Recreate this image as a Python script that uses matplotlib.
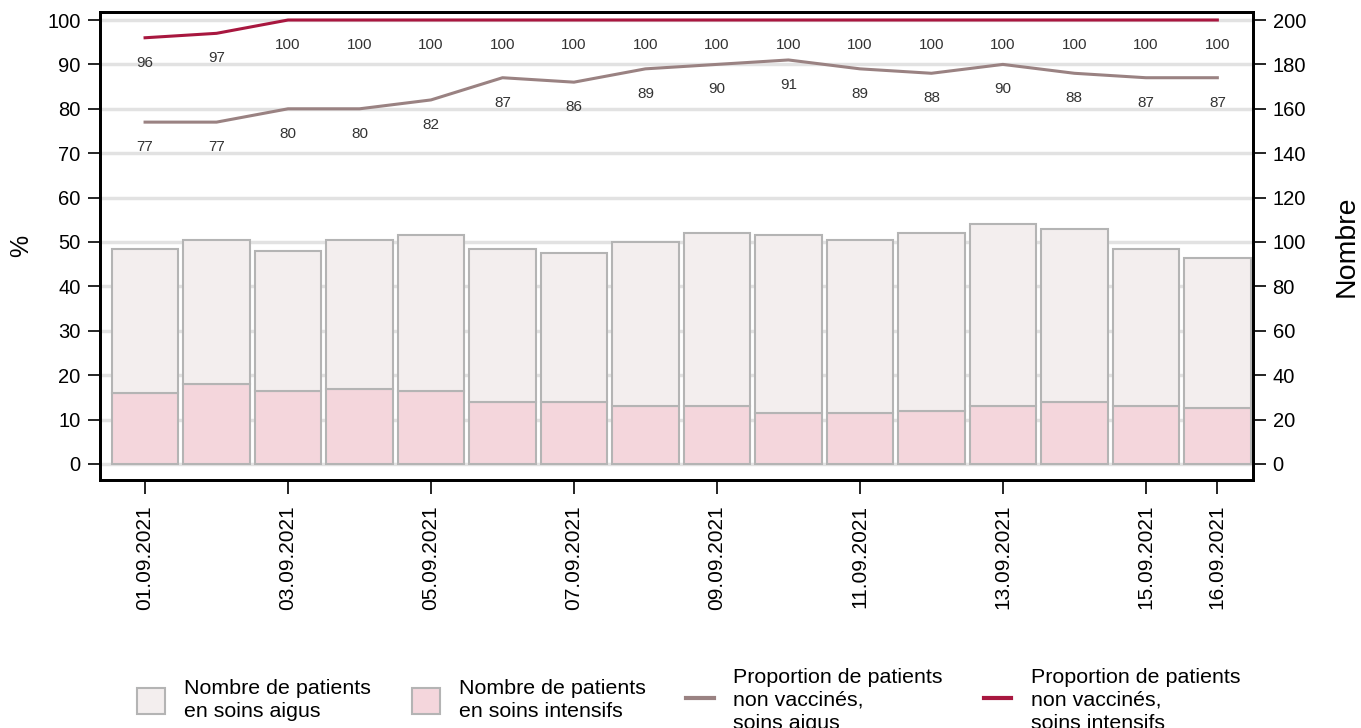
import matplotlib.pyplot as plt
from matplotlib.patches import Patch
from matplotlib.lines import Line2D

plt.rcParams['font.family'] = ['Liberation Sans', 'DejaVu Sans']

# Data
dates = ['01.09.2021', '02.09.2021', '03.09.2021', '04.09.2021', '05.09.2021',
         '06.09.2021', '07.09.2021', '08.09.2021', '09.09.2021', '10.09.2021',
         '11.09.2021', '12.09.2021', '13.09.2021', '14.09.2021', '15.09.2021',
         '16.09.2021']
soins_intensifs = [32, 36, 33, 34, 33, 28, 28, 26, 26, 23, 23, 24, 26, 28, 26, 25]
soins_aigus = [65, 65, 63, 67, 70, 69, 67, 74, 78, 80, 78, 80, 82, 78, 71, 68]
prop_aigus = [77, 77, 80, 80, 82, 87, 86, 89, 90, 91, 89, 88, 90, 88, 87, 87]
prop_intensifs = [96, 97, 100, 100, 100, 100, 100, 100, 100, 100, 100, 100, 100, 100, 100, 100]
shown_ticks = [0, 2, 4, 6, 8, 10, 12, 14, 15]

c_aigus_bar = '#f3eeee'
c_int_bar = '#f4d6dc'
c_edge = '#b4b4b4'
c_line_aigus = '#9a8282'
c_line_int = '#a8173f'

fig = plt.figure(figsize=(13.61, 7.28), dpi=100)
ax = fig.add_axes([0.0735, 0.3407, 0.8472, 0.6428])
ax2 = ax.twinx()

x = list(range(len(dates)))

# bars on the right axis (Nombre)
ax2.bar(x, soins_intensifs, width=0.93, color=c_int_bar, edgecolor=c_edge, linewidth=1.5, zorder=2)
ax2.bar(x, soins_aigus, width=0.93, bottom=soins_intensifs, color=c_aigus_bar,
        edgecolor=c_edge, linewidth=1.5, zorder=2)

# grid behind the bars
ax.set_zorder(ax2.get_zorder() + 1)
ax.patch.set_visible(False)
ax2.set_yticks(range(0, 201, 20))
for v in range(0, 201, 20):
    ax2.axhline(v, color='#e2e2e2', linewidth=2.5, zorder=1)

# lines on the left axis (%)
ax.plot(x, prop_aigus, color=c_line_aigus, linewidth=2.2, zorder=3)
ax.plot(x, prop_intensifs, color=c_line_int, linewidth=2.2, zorder=3)
for series in (prop_aigus, prop_intensifs):
    for xi, v in zip(x, series):
        ax.annotate(str(v), (xi, v), xytext=(0, -18), textcoords='offset points',
                    ha='center', va='center', fontsize=11, color='#333333',
                    family=['Liberation Sans Narrow', 'Liberation Sans'])

ax.set_xlim(-0.63, 15.5)
ax.set_ylim(-3.6, 101.8)
ax2.set_ylim(-7.2, 203.6)
ax.set_yticks(range(0, 101, 10))
ax.set_xticks(shown_ticks)
ax.set_xticklabels([dates[i] for i in shown_ticks], rotation=90)

ax.tick_params(axis='y', labelsize=14.5, length=9, width=1.2, pad=5)
ax.tick_params(axis='x', labelsize=15, length=10, width=1.2, pad=8)
ax2.tick_params(axis='y', labelsize=14.5, length=9, width=1.2, pad=5)
ax.set_ylabel('%', fontsize=18, labelpad=10)
ax2.set_ylabel('Nombre', fontsize=20.5, labelpad=20)

for a in (ax, ax2):
    for s in a.spines.values():
        s.set_linewidth(2)
        s.set_color('black')

handles = [
    Patch(facecolor=c_aigus_bar, edgecolor=c_edge, linewidth=1.5),
    Patch(facecolor=c_int_bar, edgecolor=c_edge, linewidth=1.5),
    Line2D([0], [0], color=c_line_aigus, linewidth=3),
    Line2D([0], [0], color=c_line_int, linewidth=3),
]
labels = [
    'Nombre de patients\nen soins aigus',
    'Nombre de patients\nen soins intensifs',
    'Proportion de patients\nnon vaccinés,\nsoins aigus',
    'Proportion de patients\nnon vaccinés,\nsoins intensifs',
]
leg = fig.legend(handles, labels, loc='center', bbox_to_anchor=(0.506, 0.038), ncol=4,
                 frameon=False, fontsize=15.4, handlelength=1.3, handleheight=1.5,
                 columnspacing=1.9, handletextpad=0.9, labelspacing=0.2)
for t in leg.get_texts():
    t.set_linespacing(1.25)

fig.savefig('out.png', dpi=100)
